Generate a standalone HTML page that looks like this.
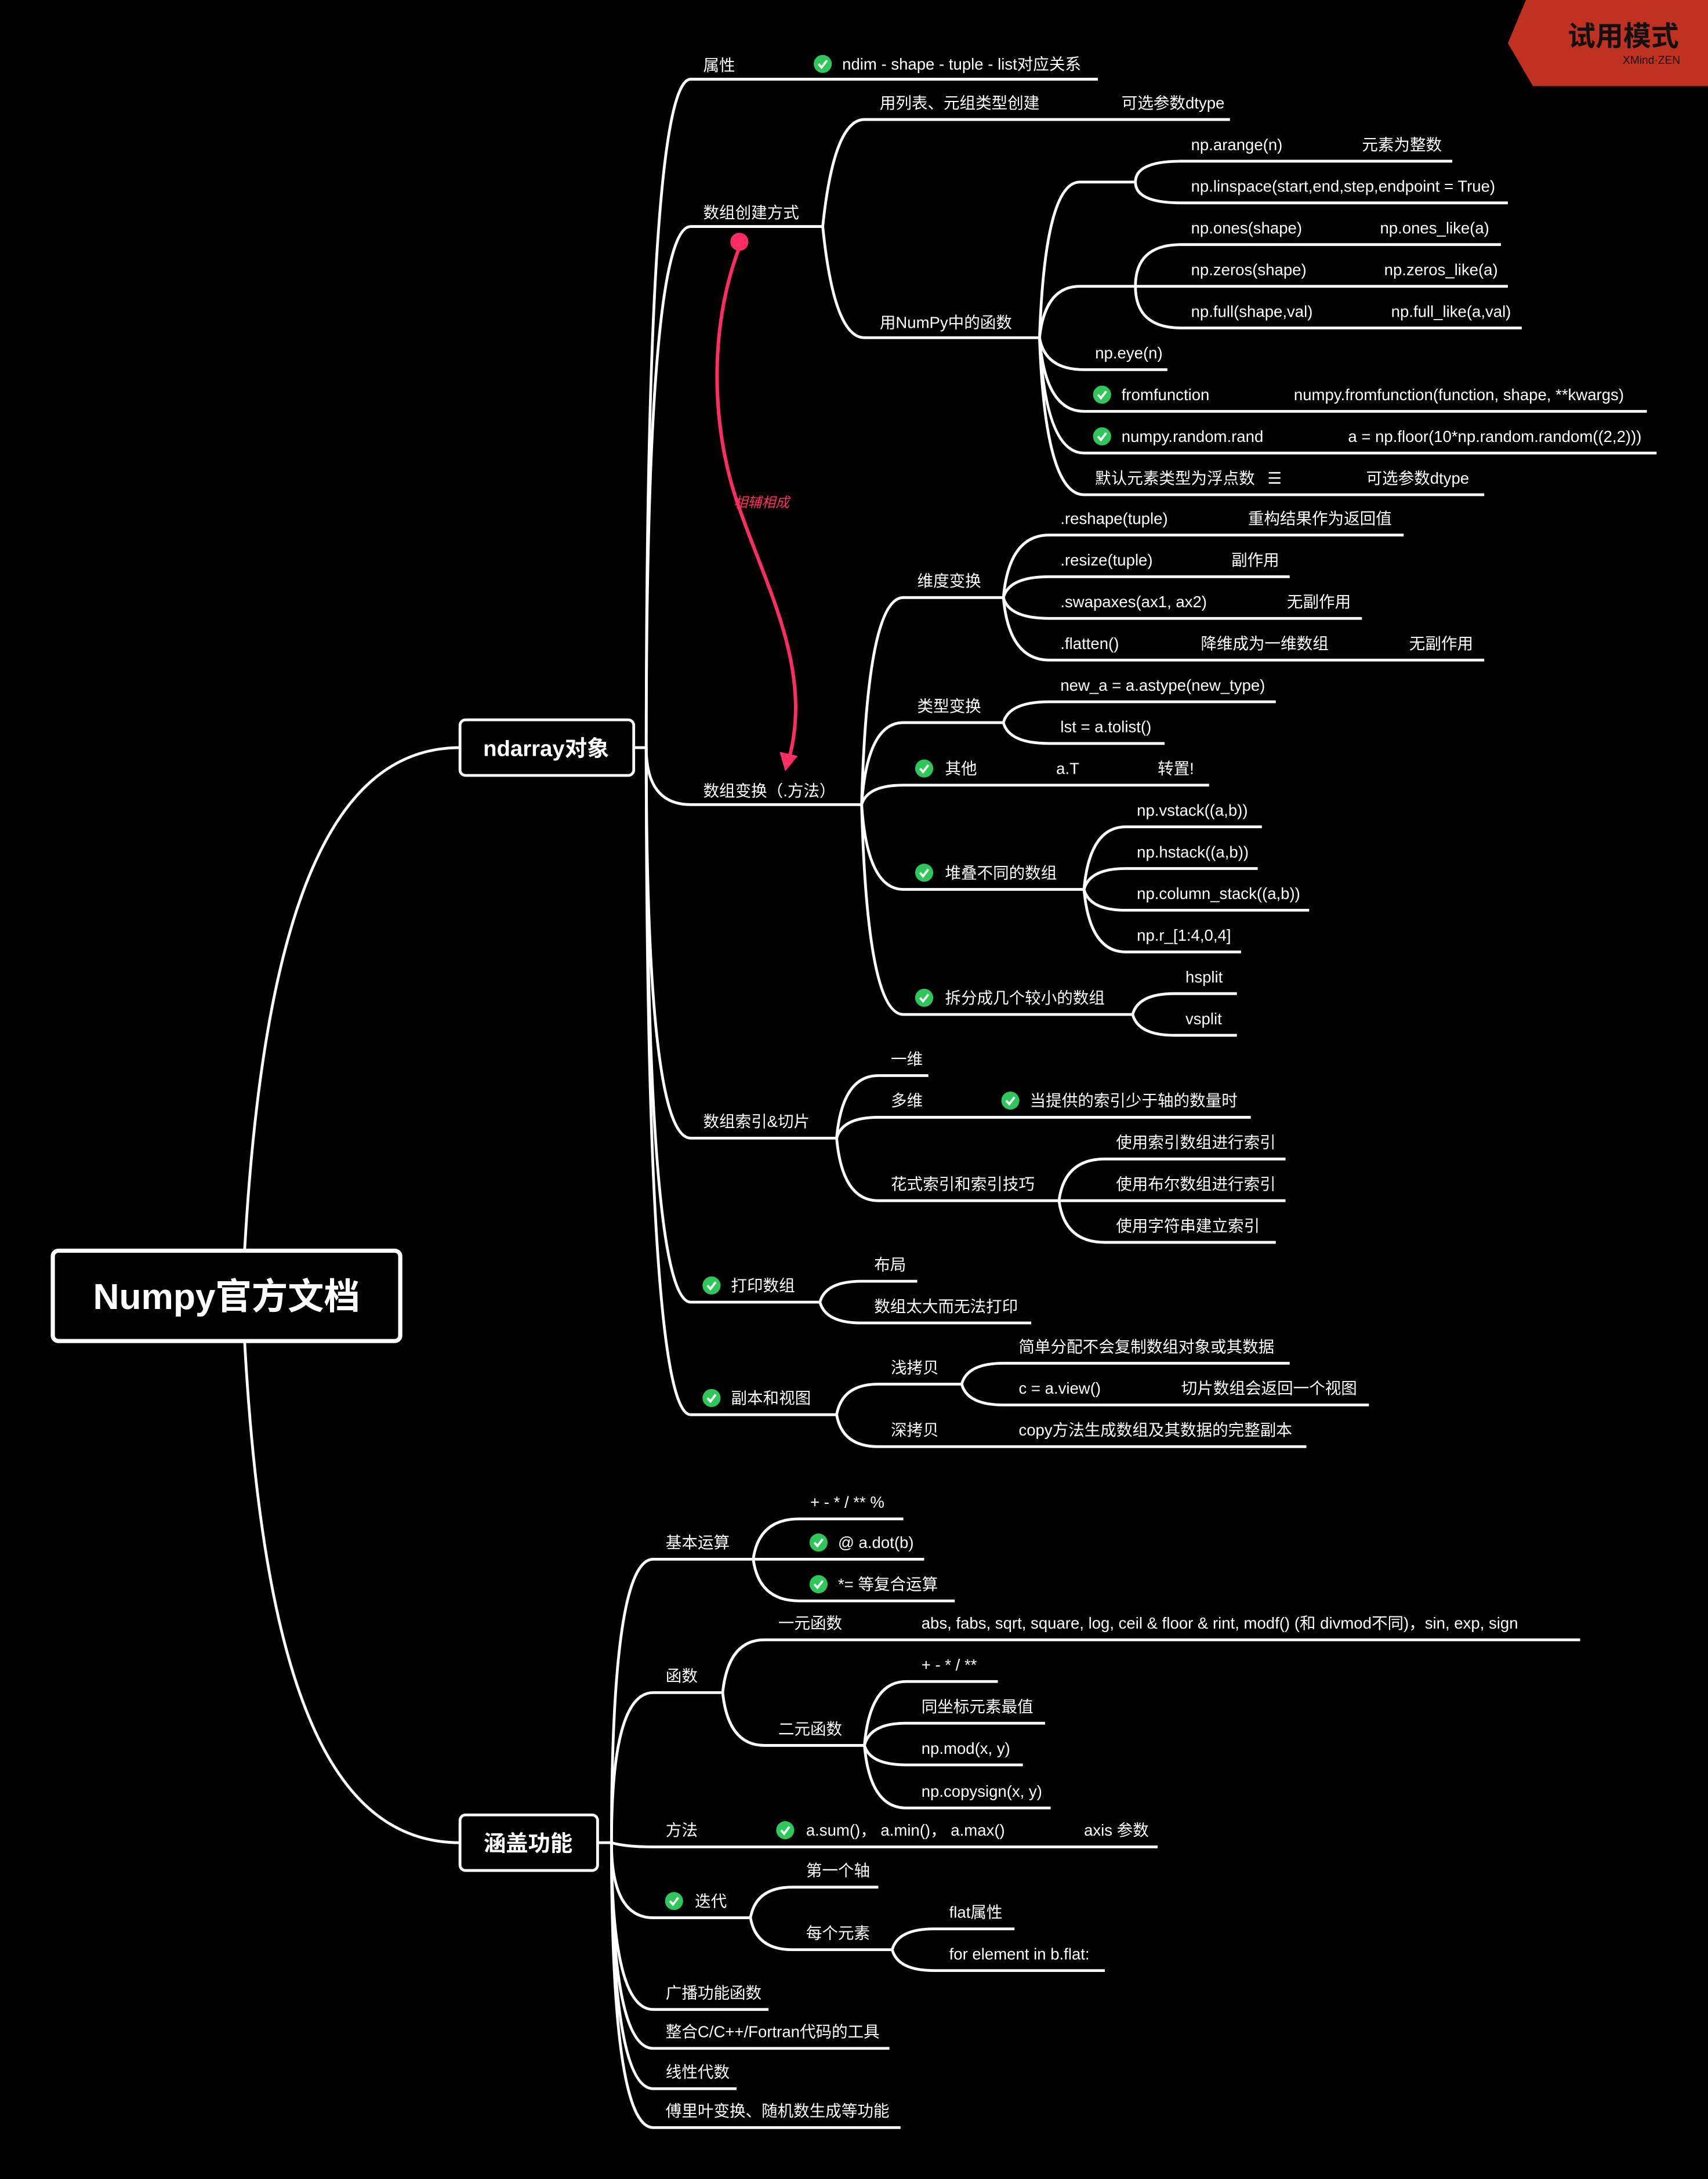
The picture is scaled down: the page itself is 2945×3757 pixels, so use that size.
<!DOCTYPE html>
<html><head><meta charset="utf-8"><style>
html,body{margin:0;padding:0;background:#000;}
svg{display:block;}
text{font-family:"Liberation Sans","Noto Sans CJK SC",sans-serif;fill:#fff;font-size:11.5px;}
.l{stroke:#fff;stroke-width:2;fill:none;}
</style></head><body>
<svg width="2945" height="3757" viewBox="0 0 1229 1568" preserveAspectRatio="none" xmlns="http://www.w3.org/2000/svg">
<defs>
<g id="ck"><circle r="6.5" fill="#2ec75a"/><path d="M-3 0 L-0.8 2.5 L3 -2.5" stroke="#fff" stroke-width="1.6" fill="none"/></g>
</defs>
<rect width="1229" height="1568" fill="#000"/>
<!-- watermark -->
<polygon points="1098,0 1229,0 1229,62 1103,62 1085,31" fill="#c0311f"/>
<text x="1208" y="33" text-anchor="end" style="font-size:20px;font-weight:bold;fill:#111">试用模式</text>
<text x="1209" y="46" text-anchor="end" style="font-size:8px;fill:#111">XMind·ZEN</text>

<!-- root -->
<path class="l" d="M176 900 C190 650 240 538 331 538"/>
<path class="l" d="M176 965 C190 1220 240 1326 331 1326"/>
<rect x="38" y="900" width="250" height="65" rx="4" fill="#000" stroke="#fff" stroke-width="3"/>
<text x="163" y="942" text-anchor="middle" style="font-size:26px;font-weight:bold">Numpy官方文档</text>
<rect x="331" y="518" width="125" height="40" rx="4" fill="#000" stroke="#fff" stroke-width="2"/>
<text x="393" y="544" text-anchor="middle" style="font-size:16px;font-weight:bold">ndarray对象</text>
<rect x="331" y="1306" width="99" height="40" rx="4" fill="#000" stroke="#fff" stroke-width="2"/>
<text x="380" y="1332" text-anchor="middle" style="font-size:16px;font-weight:bold">涵盖功能</text>

<!-- ndarray branches -->
<path class="l" d="M456 538 H465"/>
<path class="l" d="M465 538 Q465 57 497 57 H790"/>
<path class="l" d="M465 538 Q465 163 497 163 H592"/>
<path class="l" d="M465 538 Q465 579 497 579 H620"/>
<path class="l" d="M465 538 Q465 819 497 819 H602"/>
<path class="l" d="M465 538 Q465 937 497 937 H590"/>
<path class="l" d="M465 538 Q465 1018 497 1018 H602"/>
<text x="506" y="51">属性</text>
<use href="#ck" x="592" y="46"/><text x="606" y="50">ndim - shape - tuple - list对应关系</text>
<text x="506" y="157">数组创建方式</text>
<text x="506" y="573">数组变换（.方法）</text>
<text x="506" y="811">数组索引&amp;切片</text>
<use href="#ck" x="512" y="925"/><text x="526" y="929">打印数组</text>
<use href="#ck" x="512" y="1006"/><text x="526" y="1010">副本和视图</text>

<!-- 数组创建方式 -->
<path class="l" d="M592 163 Q600 86 622 86 H885"/>
<path class="l" d="M592 163 Q600 243 622 243 H748"/>
<text x="633" y="78">用列表、元组类型创建</text><text x="807" y="78">可选参数dtype</text>
<text x="633" y="236">用NumPy中的函数</text>
<path class="l" d="M748 243 Q752 131 777 131 H817"/>
<path class="l" d="M748 243 Q752 206 777 206 H817"/>
<path class="l" d="M748 243 Q752 266 780 266 H840"/>
<path class="l" d="M748 243 Q752 296 780 296 H1185"/>
<path class="l" d="M748 243 Q752 326 780 326 H1192"/>
<path class="l" d="M748 243 Q752 356 780 356 H1068"/>
<path class="l" d="M817 131 Q817 116 850 116 H1045"/>
<path class="l" d="M817 131 Q817 146 850 146 H1085"/>
<path class="l" d="M817 206 Q817 176 850 176 H1080"/>
<path class="l" d="M817 206 H1085"/>
<path class="l" d="M817 206 Q817 236 850 236 H1095"/>
<text x="857" y="108">np.arange(n)</text><text x="980" y="108">元素为整数</text>
<text x="857" y="138">np.linspace(start,end,step,endpoint = True)</text>
<text x="857" y="168">np.ones(shape)</text><text x="993" y="168">np.ones_like(a)</text>
<text x="857" y="198">np.zeros(shape)</text><text x="996" y="198">np.zeros_like(a)</text>
<text x="857" y="228">np.full(shape,val)</text><text x="1001" y="228">np.full_like(a,val)</text>
<text x="788" y="258">np.eye(n)</text>
<use href="#ck" x="793" y="284"/><text x="807" y="288">fromfunction</text><text x="931" y="288">numpy.fromfunction(function, shape, **kwargs)</text>
<use href="#ck" x="793" y="314"/><text x="807" y="318">numpy.random.rand</text><text x="970" y="318">a = np.floor(10*np.random.random((2,2)))</text>
<text x="788" y="348">默认元素类型为浮点数</text><text x="912" y="348">☰</text><text x="983" y="348">可选参数dtype</text>

<!-- pink relation -->
<circle cx="532" cy="174" r="6.5" fill="#ff2d63"/>
<path d="M532 178 C512 230 510 300 530 360 C550 420 585 480 568 545" stroke="#ff2d63" stroke-width="2.5" fill="none"/>
<polygon points="561,541 574,544 565,555" fill="#ff2d63"/>
<text x="528" y="365" style="font-size:10px;font-style:italic;fill:#ff2d63">相辅相成</text>

<!-- 数组变换 -->
<path class="l" d="M620 579 Q624 430 650 430 H722"/>
<path class="l" d="M620 579 Q624 520 650 520 H722"/>
<path class="l" d="M620 579 Q624 565 650 565 H870"/>
<path class="l" d="M620 579 Q624 640 650 640 H780"/>
<path class="l" d="M620 579 Q624 730 650 730 H815"/>
<text x="660" y="422">维度变换</text>
<text x="660" y="512">类型变换</text>
<use href="#ck" x="665" y="553"/><text x="680" y="557">其他</text><text x="760" y="557">a.T</text><text x="833" y="557">转置!</text>
<use href="#ck" x="665" y="628"/><text x="680" y="632">堆叠不同的数组</text>
<use href="#ck" x="665" y="718"/><text x="680" y="722">拆分成几个较小的数组</text>
<path class="l" d="M722 430 Q726 385 755 385 H1010"/>
<path class="l" d="M722 430 Q726 415 755 415 H928"/>
<path class="l" d="M722 430 Q726 445 755 445 H980"/>
<path class="l" d="M722 430 Q726 475 755 475 H1068"/>
<text x="763" y="377">.reshape(tuple)</text><text x="898" y="377">重构结果作为返回值</text>
<text x="763" y="407">.resize(tuple)</text><text x="886" y="407">副作用</text>
<text x="763" y="437">.swapaxes(ax1, ax2)</text><text x="926" y="437">无副作用</text>
<text x="763" y="467">.flatten()</text><text x="864" y="467">降维成为一维数组</text><text x="1014" y="467">无副作用</text>
<path class="l" d="M722 520 Q726 505 755 505 H918"/>
<path class="l" d="M722 520 Q726 535 755 535 H838"/>
<text x="763" y="497">new_a = a.astype(new_type)</text>
<text x="763" y="527">lst = a.tolist()</text>
<path class="l" d="M780 640 Q784 595 810 595 H908"/>
<path class="l" d="M780 640 Q784 625 810 625 H905"/>
<path class="l" d="M780 640 Q784 655 810 655 H942"/>
<path class="l" d="M780 640 Q784 685 810 685 H893"/>
<text x="818" y="587">np.vstack((a,b))</text>
<text x="818" y="617">np.hstack((a,b))</text>
<text x="818" y="647">np.column_stack((a,b))</text>
<text x="818" y="677">np.r_[1:4,0,4]</text>
<path class="l" d="M815 730 Q819 715 845 715 H890"/>
<path class="l" d="M815 730 Q819 745 845 745 H890"/>
<text x="853" y="707">hsplit</text>
<text x="853" y="737">vsplit</text>

<!-- 索引 -->
<path class="l" d="M602 819 Q606 774 632 774 H668"/>
<path class="l" d="M602 819 Q606 804 632 804 H900"/>
<path class="l" d="M602 819 Q606 864 632 864 H762"/>
<text x="641" y="766">一维</text>
<text x="641" y="796">多维</text><use href="#ck" x="727" y="792"/><text x="741" y="796">当提供的索引少于轴的数量时</text>
<text x="641" y="856">花式索引和索引技巧</text>
<path class="l" d="M762 864 Q766 834 795 834 H925"/>
<path class="l" d="M762 864 H925"/>
<path class="l" d="M762 864 Q766 894 795 894 H918"/>
<text x="803" y="826">使用索引数组进行索引</text>
<text x="803" y="856">使用布尔数组进行索引</text>
<text x="803" y="886">使用字符串建立索引</text>

<!-- 打印 -->
<path class="l" d="M590 937 Q594 922 620 922 H660"/>
<path class="l" d="M590 937 Q594 952 620 952 H742"/>
<text x="629" y="914">布局</text>
<text x="629" y="944">数组太大而无法打印</text>

<!-- 副本 -->
<path class="l" d="M602 1018 Q606 996 632 996 H692"/>
<path class="l" d="M602 1018 Q606 1041 632 1041 H940"/>
<text x="641" y="988">浅拷贝</text>
<text x="641" y="1033">深拷贝</text><text x="733" y="1033">copy方法生成数组及其数据的完整副本</text>
<path class="l" d="M692 996 Q696 981 722 981 H928"/>
<path class="l" d="M692 996 Q696 1011 722 1011 H985"/>
<text x="733" y="973">简单分配不会复制数组对象或其数据</text>
<text x="733" y="1003">c = a.view()</text><text x="850" y="1003">切片数组会返回一个视图</text>

<!-- 涵盖功能 -->
<path class="l" d="M430 1326 H440"/>
<path class="l" d="M440 1326 Q440 1122 470 1122 H542"/>
<path class="l" d="M440 1326 Q440 1218 470 1218 H520"/>
<path class="l" d="M440 1326 Q450 1329 470 1329 H833"/>
<path class="l" d="M440 1326 Q440 1380 470 1380 H540"/>
<path class="l" d="M440 1326 Q440 1446 470 1446 H553"/>
<path class="l" d="M440 1326 Q440 1474 470 1474 H640"/>
<path class="l" d="M440 1326 Q440 1503 470 1503 H530"/>
<path class="l" d="M440 1326 Q440 1531 470 1531 H648"/>
<text x="479" y="1114">基本运算</text>
<text x="479" y="1210">函数</text>
<text x="479" y="1321">方法</text><use href="#ck" x="565" y="1317"/><text x="580" y="1321">a.sum()，  a.min()，  a.max()</text><text x="780" y="1321">axis 参数</text>
<use href="#ck" x="485" y="1368"/><text x="500" y="1372">迭代</text>
<text x="479" y="1438">广播功能函数</text>
<text x="479" y="1466">整合C/C++/Fortran代码的工具</text>
<text x="479" y="1495">线性代数</text>
<text x="479" y="1523">傅里叶变换、随机数生成等功能</text>
<path class="l" d="M542 1122 Q546 1093 575 1093 H650"/>
<path class="l" d="M542 1122 H665"/>
<path class="l" d="M542 1122 Q546 1152 575 1152 H687"/>
<text x="583" y="1085">+ - * / ** %</text>
<use href="#ck" x="589" y="1110"/><text x="603" y="1114">@ a.dot(b)</text>
<use href="#ck" x="589" y="1140"/><text x="603" y="1144">*= 等复合运算</text>
<path class="l" d="M520 1218 Q524 1180 550 1180 H1137"/>
<path class="l" d="M520 1218 Q524 1256 550 1256 H622"/>
<text x="560" y="1172">一元函数</text><text x="663" y="1172">abs, fabs, sqrt, square, log, ceil &amp; floor &amp; rint, modf() (和 divmod不同)，sin, exp, sign</text>
<text x="560" y="1248">二元函数</text>
<path class="l" d="M622 1256 Q626 1210 652 1210 H718"/>
<path class="l" d="M622 1256 Q626 1240 652 1240 H752"/>
<path class="l" d="M622 1256 Q626 1270 652 1270 H736"/>
<path class="l" d="M622 1256 Q626 1301 652 1301 H756"/>
<text x="663" y="1202">+ - * /  **</text>
<text x="663" y="1232">同坐标元素最值</text>
<text x="663" y="1262">np.mod(x, y)</text>
<text x="663" y="1293">np.copysign(x, y)</text>
<path class="l" d="M540 1380 Q544 1358 570 1358 H632"/>
<path class="l" d="M540 1380 Q544 1403 570 1403 H642"/>
<text x="580" y="1350">第一个轴</text>
<text x="580" y="1395">每个元素</text>
<path class="l" d="M642 1403 Q646 1388 672 1388 H730"/>
<path class="l" d="M642 1403 Q646 1418 672 1418 H795"/>
<text x="683" y="1380">flat属性</text>
<text x="683" y="1410">for element in b.flat:</text>
</svg>
</body></html>
